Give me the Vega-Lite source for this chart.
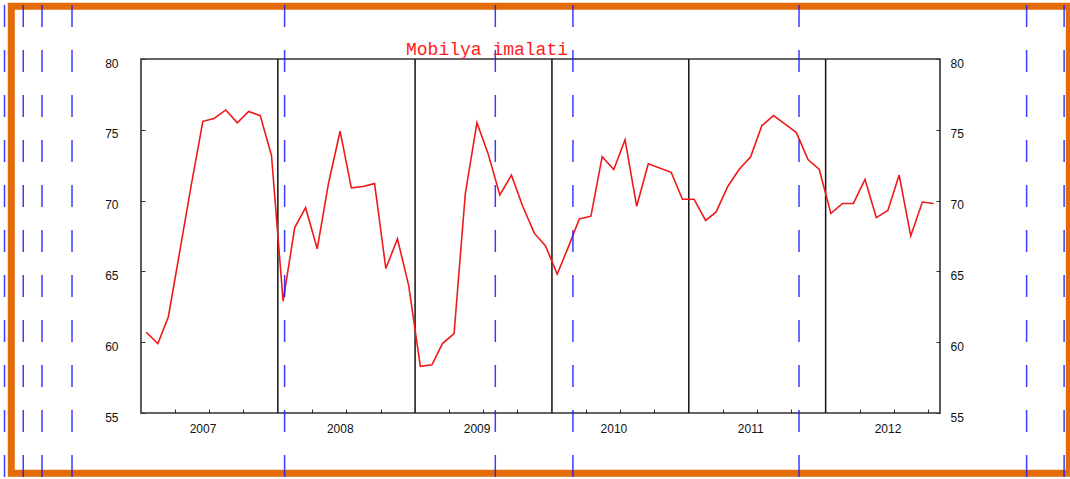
{
  "$schema": "https://vega.github.io/schema/vega-lite/v6.json",
  "width": 799,
  "height": 354,
  "autosize": {"type": "none"},
  "padding": {"left": 141, "top": 59, "right": 130, "bottom": 66},
  "background": "white",
  "title": {
    "text": "Mobilya imalati",
    "anchor": "start",
    "frame": "group",
    "dx": 265,
    "dy": 58,
    "offset": 2,
    "font": "Liberation Mono",
    "fontSize": 18,
    "fontWeight": "normal",
    "color": "#ff1a1a"
  },
  "datasets": {
    "series": [
      {"date": "2007-01-15", "value": 60.7},
      {"date": "2007-02-15", "value": 59.9},
      {"date": "2007-03-15", "value": 61.8},
      {"date": "2007-04-15", "value": 66.5},
      {"date": "2007-05-15", "value": 71.1},
      {"date": "2007-06-15", "value": 75.6},
      {"date": "2007-07-15", "value": 75.8},
      {"date": "2007-08-15", "value": 76.4},
      {"date": "2007-09-15", "value": 75.5},
      {"date": "2007-10-15", "value": 76.3},
      {"date": "2007-11-15", "value": 76.0},
      {"date": "2007-12-15", "value": 73.2},
      {"date": "2008-01-15", "value": 62.9},
      {"date": "2008-02-15", "value": 68.1},
      {"date": "2008-03-15", "value": 69.5},
      {"date": "2008-04-15", "value": 66.6},
      {"date": "2008-05-15", "value": 71.2},
      {"date": "2008-06-15", "value": 74.9},
      {"date": "2008-07-15", "value": 70.9},
      {"date": "2008-08-15", "value": 71.0},
      {"date": "2008-09-15", "value": 71.2},
      {"date": "2008-10-15", "value": 65.2},
      {"date": "2008-11-15", "value": 67.3},
      {"date": "2008-12-15", "value": 64.0},
      {"date": "2009-01-15", "value": 58.3},
      {"date": "2009-02-15", "value": 58.4},
      {"date": "2009-03-15", "value": 59.9},
      {"date": "2009-04-15", "value": 60.6},
      {"date": "2009-05-15", "value": 70.5},
      {"date": "2009-06-15", "value": 75.5},
      {"date": "2009-07-15", "value": 73.3},
      {"date": "2009-08-15", "value": 70.4},
      {"date": "2009-09-15", "value": 71.8},
      {"date": "2009-10-15", "value": 69.6},
      {"date": "2009-11-15", "value": 67.7},
      {"date": "2009-12-15", "value": 66.8},
      {"date": "2010-01-15", "value": 64.8},
      {"date": "2010-02-15", "value": 66.8},
      {"date": "2010-03-15", "value": 68.7},
      {"date": "2010-04-15", "value": 68.9},
      {"date": "2010-05-15", "value": 73.1},
      {"date": "2010-06-15", "value": 72.2},
      {"date": "2010-07-15", "value": 74.3},
      {"date": "2010-08-15", "value": 69.6},
      {"date": "2010-09-15", "value": 72.6},
      {"date": "2010-10-15", "value": 72.3},
      {"date": "2010-11-15", "value": 72.0},
      {"date": "2010-12-15", "value": 70.1},
      {"date": "2011-01-15", "value": 70.1},
      {"date": "2011-02-15", "value": 68.6},
      {"date": "2011-03-15", "value": 69.2},
      {"date": "2011-04-15", "value": 71.0},
      {"date": "2011-05-15", "value": 72.2},
      {"date": "2011-06-15", "value": 73.1},
      {"date": "2011-07-15", "value": 75.3},
      {"date": "2011-08-15", "value": 76.0},
      {"date": "2011-09-15", "value": 75.4},
      {"date": "2011-10-15", "value": 74.8},
      {"date": "2011-11-15", "value": 72.9},
      {"date": "2011-12-15", "value": 72.2},
      {"date": "2012-01-15", "value": 69.1},
      {"date": "2012-02-15", "value": 69.8},
      {"date": "2012-03-15", "value": 69.8},
      {"date": "2012-04-15", "value": 71.5},
      {"date": "2012-05-15", "value": 68.8},
      {"date": "2012-06-15", "value": 69.3},
      {"date": "2012-07-15", "value": 71.8},
      {"date": "2012-08-15", "value": 67.5},
      {"date": "2012-09-15", "value": 69.9},
      {"date": "2012-10-15", "value": 69.8}
    ],
    "years": [
      {"start": "2008-01-01"},
      {"start": "2009-01-01"},
      {"start": "2010-01-01"},
      {"start": "2011-01-01"},
      {"start": "2012-01-01"}
    ],
    "guides": [
      {"date": "2006-01-02"},
      {"date": "2006-02-21"},
      {"date": "2006-04-12"},
      {"date": "2006-07-01"},
      {"date": "2008-01-19"},
      {"date": "2009-08-03"},
      {"date": "2010-02-26"},
      {"date": "2011-10-22"},
      {"date": "2013-06-20"},
      {"date": "2013-09-28"}
    ]
  },
  "layer": [
    {
      "data": {"values": [{}]},
      "mark": {"type": "rect", "filled": false, "stroke": "#E36C09", "strokeWidth": 7},
      "encoding": {
        "x": {
          "datum": {"year": 2006, "month": 1, "date": 20},
          "type": "temporal",
          "scale": {"domain": [{"year": 2007, "month": 1, "date": 1}, {"year": 2012, "month": 11, "date": 1}]},
          "axis": {
            "orient": "bottom",
            "title": null,
            "labels": false,
            "domain": false,
            "grid": false,
            "ticks": true,
            "tickSize": -4,
            "tickColor": "#333",
            "values": [
              {"year": 2007, "month": 4, "date": 1}, {"year": 2007, "month": 7, "date": 1}, {"year": 2007, "month": 10, "date": 1},
              {"year": 2008, "month": 4, "date": 1}, {"year": 2008, "month": 7, "date": 1}, {"year": 2008, "month": 10, "date": 1},
              {"year": 2009, "month": 4, "date": 1}, {"year": 2009, "month": 7, "date": 1}, {"year": 2009, "month": 10, "date": 1},
              {"year": 2010, "month": 4, "date": 1}, {"year": 2010, "month": 7, "date": 1}, {"year": 2010, "month": 10, "date": 1},
              {"year": 2011, "month": 4, "date": 1}, {"year": 2011, "month": 7, "date": 1}, {"year": 2011, "month": 10, "date": 1},
              {"year": 2012, "month": 4, "date": 1}, {"year": 2012, "month": 7, "date": 1}, {"year": 2012, "month": 10, "date": 1}
            ]
          }
        },
        "x2": {"datum": {"year": 2013, "month": 10, "date": 12}},
        "y": {
          "datum": 83.72,
          "type": "quantitative",
          "scale": {"domain": [55, 80], "zero": false, "nice": false},
          "axis": {
            "orient": "right",
            "title": null,
            "values": [55, 60, 65, 70, 75, 80],
            "domain": false,
            "grid": false,
            "tickSize": -4,
            "tickColor": "#333",
            "labelPadding": 14,
            "labelOffset": 4,
            "labelFont": "Liberation Sans",
            "labelFontSize": 12,
            "labelColor": "#111"
          }
        },
        "y2": {"datum": 50.74}
      }
    },
    {
      "data": {"name": "years"},
      "mark": {"type": "rule", "color": "#111111", "strokeWidth": 1.5},
      "encoding": {
        "x": {"field": "start", "type": "temporal", "axis": null}
      }
    },
    {
      "data": {"name": "series"},
      "mark": {"type": "line", "color": "#ee1a1a", "strokeWidth": 1.6},
      "encoding": {
        "x": {
          "field": "date",
          "type": "temporal",
          "scale": {"domain": [{"year": 2007, "month": 1, "date": 1}, {"year": 2012, "month": 11, "date": 1}]},
          "axis": {
            "orient": "bottom",
            "title": null,
            "format": "%Y",
            "ticks": false,
            "domain": false,
            "grid": false,
            "labelPadding": 10,
            "labelFont": "Liberation Sans",
            "labelFontSize": 12,
            "labelColor": "#111",
            "values": [
              {"year": 2007, "month": 6, "date": 14},
              {"year": 2008, "month": 6, "date": 14},
              {"year": 2009, "month": 6, "date": 14},
              {"year": 2010, "month": 6, "date": 14},
              {"year": 2011, "month": 6, "date": 14},
              {"year": 2012, "month": 6, "date": 14}
            ]
          }
        },
        "y": {
          "field": "value",
          "type": "quantitative",
          "scale": {"domain": [55, 80], "zero": false, "nice": false},
          "axis": {
            "orient": "left",
            "title": null,
            "values": [55, 60, 65, 70, 75, 80],
            "domain": false,
            "grid": false,
            "tickSize": -4,
            "tickColor": "#333",
            "labelPadding": 27,
            "labelOffset": 4,
            "labelFont": "Liberation Sans",
            "labelFontSize": 12,
            "labelColor": "#111"
          }
        }
      }
    },
    {
      "data": {"name": "guides"},
      "mark": {"type": "rule", "color": "#1a1aff", "strokeWidth": 1.5, "opacity": 0.85, "strokeDash": [22, 23]},
      "encoding": {
        "x": {"field": "date", "type": "temporal", "axis": null},
        "y": {"datum": 83.81, "type": "quantitative", "axis": null},
        "y2": {"datum": 50.2}
      }
    }
  ],
  "resolve": {"axis": {"x": "independent", "y": "independent"}},
  "config": {
    "view": {"stroke": "#333333", "strokeWidth": 1.6}
  }
}
